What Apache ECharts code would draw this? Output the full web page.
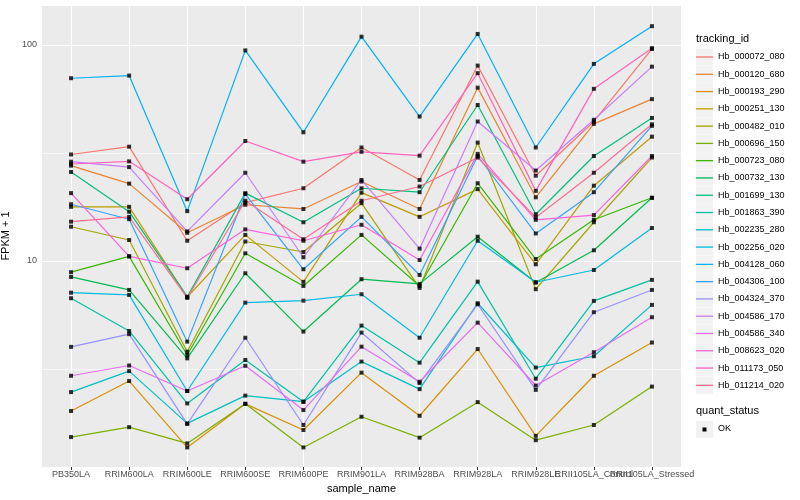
<!DOCTYPE html>
<html><head><meta charset="utf-8">
<script src="https://cdn.jsdelivr.net/npm/echarts@6/dist/echarts.min.js"></script>
<style>html,body{margin:0;padding:0;background:#fff}#c{width:800px;height:500px}</style>
</head><body><div id="c"></div>
<script>
const categories = ['PB350LA','RRIM600LA','RRIM600LE','RRIM600SE','RRIM600PE','RRIM901LA','RRIM928BA','RRIM928LA','RRIM928LE','RRII105LA_Control','RRII105LA_Stressed'];
const trackingIds = ['Hb_000072_080','Hb_000120_680','Hb_000193_290','Hb_000251_130','Hb_000482_010','Hb_000696_150','Hb_000723_080','Hb_000732_130','Hb_001699_130','Hb_001863_390','Hb_002235_280','Hb_002256_020','Hb_004128_060','Hb_004306_100','Hb_004324_370','Hb_004586_170','Hb_004586_340','Hb_008623_020','Hb_011173_050','Hb_011214_020'];
const colors = ['#F8766D','#EA8331','#D89000','#C09B00','#A3A500','#7CAE00','#39B600','#00BB4E','#00BF7D','#00C1A3','#00BFC4','#00BAE0','#00B0F6','#35A2FF','#9590FF','#C77CFF','#E76BF3','#FA62DB','#FF62BC','#FF6C91'];
const yTickLabels = ['10','100'];

const hb_000072_080 = [31.1, 33.8, 12.4, 18.6, 21.7, 33.5, 23.7, 80.2, 24.8, 44.2, 95.8];
const hb_000120_680 = [27.6, 22.8, 13.5, 18.2, 17.4, 23.3, 17.4, 63.4, 19.7, 43.1, 56.1];
const hb_000193_290 = [2.02, 2.78, 1.37, 2.18, 1.65, 3.04, 1.92, 3.91, 1.55, 2.94, 4.19];
const hb_000251_130 = [17.8, 17.8, 6.81, 13.2, 8.0, 20.7, 16.0, 21.5, 9.65, 22.3, 37.6];
const hb_000482_010 = [14.4, 12.5, 3.80, 12.3, 11.0, 18.5, 7.50, 35.3, 7.40, 15.1, 30.1];
const hb_000696_150 = [1.53, 1.70, 1.43, 2.18, 1.37, 1.90, 1.52, 2.22, 1.48, 1.74, 2.62];
const hb_000723_080 = [8.87, 10.5, 3.67, 10.85, 7.66, 13.2, 7.66, 22.9, 10.2, 15.5, 19.6];
const hb_000732_130 = [8.43, 7.34, 3.54, 8.77, 4.71, 8.23, 7.83, 12.95, 7.94, 11.2, 19.6];
const hb_001699_130 = [25.8, 16.9, 6.83, 20.6, 15.1, 21.7, 20.8, 52.7, 16.45, 30.6, 45.9];
const hb_001863_390 = [6.72, 4.74, 2.19, 3.48, 2.23, 5.02, 3.38, 8.02, 2.85, 6.53, 8.17];
const hb_002235_280 = [2.47, 3.09, 1.77, 2.38, 2.23, 3.42, 2.55, 6.37, 3.21, 3.62, 6.26];
const hb_002256_020 = [7.13, 6.96, 2.50, 6.41, 6.55, 7.01, 4.41, 12.4, 7.97, 9.08, 14.2];
const hb_004128_060 = [70.1, 72.1, 17.0, 94.3, 39.4, 109.2, 46.6, 112.4, 33.5, 81.7, 122.1];
const hb_004306_100 = [18.3, 15.6, 4.23, 20.4, 9.15, 16.0, 8.61, 30.6, 13.4, 20.8, 42.2];
const hb_004324_370 = [4.00, 4.58, 1.76, 4.41, 1.74, 4.66, 2.72, 6.30, 2.53, 5.79, 7.34];
const hb_004586_170 = [28.8, 27.2, 13.7, 25.6, 10.4, 23.7, 11.4, 44.2, 26.2, 45.0, 79.3];
const hb_004586_340 = [2.94, 3.28, 2.50, 3.27, 2.04, 4.01, 2.76, 5.18, 2.65, 3.78, 5.49];
const hb_008623_020 = [20.6, 10.5, 9.25, 14.0, 12.4, 14.7, 10.1, 31.3, 15.5, 16.3, 30.6];
const hb_011173_050 = [28.1, 28.9, 19.3, 35.9, 28.8, 32.0, 30.7, 74.0, 21.1, 62.6, 96.5];
const hb_011214_020 = [15.2, 16.0, 6.74, 19.0, 12.6, 19.0, 22.1, 30.1, 15.9, 25.6, 42.9];

const seriesValues = [hb_000072_080, hb_000120_680, hb_000193_290, hb_000251_130, hb_000482_010,
  hb_000696_150, hb_000723_080, hb_000732_130, hb_001699_130, hb_001863_390, hb_002235_280,
  hb_002256_020, hb_004128_060, hb_004306_100, hb_004324_370, hb_004586_170, hb_004586_340,
  hb_008623_020, hb_011173_050, hb_011214_020];

const FONT = 'Liberation Sans, Arial, sans-serif';
const chart = echarts.init(document.getElementById('c'), null, {renderer: 'canvas', width: 800, height: 500});

const lineSeries = trackingIds.map((id, i) => ({
  name: id, type: 'line', data: seriesValues[i], symbol: 'none',
  lineStyle: {color: colors[i], width: 1.2}, itemStyle: {color: colors[i]},
  emphasis: {disabled: true}, z: 2,
  markLine: i === 0 ? {
    silent: true, symbol: ['none', 'none'], z: 1, animation: false,
    label: {show: false}, emphasis: {disabled: true},
    lineStyle: {color: '#ffffff', width: 0.6, type: 'solid', opacity: 1},
    data: [{yAxis: Math.sqrt(10)}, {yAxis: 10 * Math.sqrt(10)}]
  } : undefined
}));

const pointData = [];
seriesValues.forEach(vals => vals.forEach((v, j) => pointData.push([categories[j], v])));

const option = {
  animation: false,
  backgroundColor: '#ffffff',
  grid: {left: 42, right: 119, top: 5, bottom: 33, show: true, backgroundColor: '#EBEBEB', borderWidth: 0,
         containLabel: false, outerBoundsMode: 'none'},
  xAxis: {
    type: 'category', data: categories, boundaryGap: true,
    name: 'sample_name', nameLocation: 'middle', nameGap: 14,
    nameTextStyle: {fontSize: 11, color: '#000', fontFamily: FONT},
    axisLine: {show: false},
    axisTick: {show: true, alignWithLabel: true, length: 3, lineStyle: {color: '#333333'}},
    axisLabel: {interval: 0, fontSize: 9, color: '#4D4D4D', fontFamily: FONT, margin: 3, hideOverlap: false},
    splitLine: {show: true, alignWithLabel: true, interval: 0, lineStyle: {color: '#ffffff', width: 1.1}}
  },
  yAxis: {
    type: 'log', logBase: 10, min: 1.112, max: 153,
    name: 'FPKM + 1', nameLocation: 'middle', nameGap: 25, nameRotate: 90,
    nameTextStyle: {fontSize: 11, color: '#000', fontFamily: FONT},
    axisLine: {show: false},
    axisTick: {show: false},
    axisLabel: {
      fontSize: 9, color: '#4D4D4D', fontFamily: FONT, margin: 5,
      formatter: function (v) {
        const l = Math.log10(v);
        for (const t of yTickLabels) { if (Math.abs(l - Math.log10(+t)) < 0.002) return t; }
        return '';
      }
    },
    splitLine: {show: true, lineStyle: {color: '#ffffff', width: 1.1}},
    minorSplitLine: {show: false}
  },
  legend: [
    {
      data: trackingIds, orient: 'vertical', left: 696, top: 48.5, padding: 0,
      itemWidth: 17, itemHeight: 17, itemGap: 0.28, icon: 'rect', z: 3,
      itemStyle: {color: '#F2F2F2', borderWidth: 0},
      formatter: function () { return ''; }, selectedMode: false,
      textStyle: {fontSize: 9, lineHeight: 17}
    },
    {
      data: trackingIds.map((id, i) => ({name: id, itemStyle: {color: colors[i], borderWidth: 0}})),
      orient: 'vertical', left: 696, top: 48.5, padding: 0,
      itemWidth: 17, itemHeight: 17, itemGap: 0.28, z: 4,
      icon: 'path://M0,0 L17,0 L17,1.3 L0,1.3 Z', selectedMode: false,
      textStyle: {fontSize: 9, lineHeight: 17, color: '#000', fontFamily: FONT}
    }
  ],
  graphic: [
    {type: 'text', left: 696, top: 33, z: 10, style: {text: 'tracking_id', fontSize: 11, fill: '#000', font: '11px ' + FONT}},
    {type: 'text', left: 696, top: 405, z: 10, style: {text: 'quant_status', fontSize: 11, fill: '#000', font: '11px ' + FONT}},
    {type: 'rect', left: 696, top: 421, z: 10, shape: {width: 17, height: 17}, style: {fill: '#F2F2F2'}},
    {type: 'rect', left: 702.5, top: 427.5, z: 11, shape: {width: 4, height: 4}, style: {fill: '#000'}},
    {type: 'text', left: 718, top: 424, z: 10, style: {text: 'OK', fontSize: 9, fill: '#000', font: '9px ' + FONT}}
  ],
  series: lineSeries.concat([{
    name: 'OK', type: 'scatter', data: pointData, symbol: 'rect', symbolSize: 4,
    itemStyle: {color: '#000000'}, emphasis: {disabled: true}, z: 3
  }])
};
chart.setOption(option);
</script></body></html>
